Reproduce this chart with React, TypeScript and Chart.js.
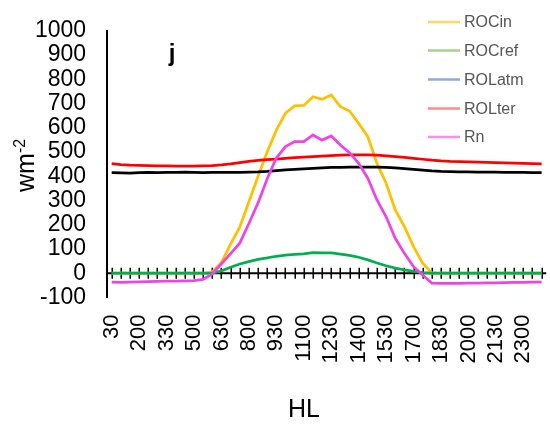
import { useEffect, useRef } from "react";
import { Chart, registerables } from "chart.js";

Chart.register(...registerables);

// Half-hourly local times (HHMM)
const hours = [
  "30", "100", "130", "200", "230", "300", "330", "400", "430", "500", "530", "600",
  "630", "700", "730", "800", "830", "900", "930", "1000", "1030", "1100", "1130", "1200",
  "1230", "1300", "1330", "1400", "1430", "1500", "1530", "1600", "1630", "1700", "1730", "1800",
  "1830", "1900", "1930", "2000", "2030", "2100", "2130", "2200", "2230", "2300", "2330", "2400",
];

// Radiation components, W m-2
const rocIn = [
  0, 0, 0, 0, 0, 0, 0, 0, 0, 0, 0, 5,
  45, 120, 190, 295, 400, 500, 590, 660, 690, 692, 728, 717,
  735, 687, 669, 618, 563, 453, 371, 261, 192, 110, 41, 0,
  0, 0, 0, 0, 0, 0, 0, 0, 0, 0, 0, 0,
];
const rocRef = [
  0, 0, 0, 0, 0, 0, 0, 0, 0, 0, 0, 0,
  10, 25, 38, 48, 57, 63, 70, 75, 78, 80, 85, 84,
  84, 79, 74, 66, 55, 42, 31, 21, 14, 8, 3, 0,
  0, 0, 0, 0, 0, 0, 0, 0, 0, 0, 0, 0,
];
const rolAtm = [
  415, 414, 413, 415, 416, 415, 416, 416, 417, 416, 415, 416,
  416, 416, 416, 417, 418, 420, 423, 426, 428, 430, 432, 434,
  436, 437, 438, 438, 438, 438, 436, 434, 431, 428, 425, 422,
  420, 419, 418, 418, 417, 417, 417, 416, 416, 416, 415, 415,
];
const rolTer = [
  452, 448, 446, 445, 444, 443, 443, 442, 442, 442, 443, 444,
  447, 451, 456, 461, 465, 468, 471, 474, 477, 479, 481, 483,
  485, 487, 488, 488, 488, 487, 484, 481, 478, 474, 470, 466,
  463, 461, 460, 459, 458, 457, 456, 455, 454, 453, 452, 451,
];
const rn = [
  -37, -38, -37, -36, -35, -34, -33, -32, -31, -30, -25, -3,
  39, 81, 124, 205, 290, 390, 475, 522, 543, 543, 570, 549,
  566, 529, 497, 453, 392, 302, 233, 144, 82, 27, -7, -41,
  -42, -42, -42, -41, -41, -40, -40, -39, -38, -38, -37, -37,
];

const seriesNames = ["ROCin", "ROCref", "ROLatm", "ROLter", "Rn"];
const lineColors = ["#FFC000", "#00B050", "#000000", "#FF0000", "#EE44E6"];
const legendColors = ["#FFD966", "#A9D18E", "#8FAADC", "#FF8A8A", "#FF8CF2"];

const FONT = "'Liberation Sans', Arial, sans-serif";

const decorations = {
  id: "decorations",
  beforeDatasetsDraw(chart: any) {
    const { ctx, chartArea, scales } = chart;
    const xs = scales.x;
    const y0 = scales.y.getPixelForValue(0);
    ctx.save();
    ctx.strokeStyle = "#000";
    ctx.lineWidth = 2;
    ctx.beginPath();
    ctx.moveTo(chartArea.left, y0);
    ctx.lineTo(chartArea.right, y0);
    ctx.stroke();
    ctx.lineWidth = 1.5;
    ctx.beginPath();
    for (let i = 0; i < hours.length; i++) {
      const px = Math.round(xs.getPixelForValue(i)) + 0.25;
      ctx.moveTo(px, y0 - 5.5);
      ctx.lineTo(px, y0 + 5.5);
    }
    ctx.stroke();
    ctx.restore();
  },
  afterDraw(chart: any) {
    const { ctx } = chart;
    ctx.save();
    ctx.fillStyle = "#000";

    // y-axis title with superscript
    ctx.save();
    ctx.translate(33.5, 192);
    ctx.rotate(-Math.PI / 2);
    ctx.textBaseline = "alphabetic";
    ctx.textAlign = "left";
    ctx.font = `25px ${FONT}`;
    ctx.fillText("wm", 0, 0);
    const w = ctx.measureText("wm").width;
    ctx.font = `16px ${FONT}`;
    ctx.fillText("-2", w, -8.5);
    ctx.restore();

    // x-axis title
    ctx.font = `25px ${FONT}`;
    ctx.textAlign = "center";
    ctx.textBaseline = "alphabetic";
    ctx.fillText("HL", 304, 417);

    // panel letter
    ctx.font = `bold 24px ${FONT}`;
    ctx.fillText("j", 172, 61);

    // legend
    ctx.filter = "blur(0.4px)";
    const rows = [22, 50.5, 79.5, 108.5, 137];
    ctx.textAlign = "left";
    ctx.textBaseline = "middle";
    ctx.font = `16px ${FONT}`;
    seriesNames.forEach((name, i) => {
      ctx.strokeStyle = legendColors[i];
      ctx.lineWidth = 2.5;
      ctx.beginPath();
      ctx.moveTo(428, rows[i]);
      ctx.lineTo(460, rows[i]);
      ctx.stroke();
      ctx.fillStyle = "#555555";
      ctx.fillText(name, 464, rows[i] + 1);
    });
    ctx.restore();
  },
};

export default function App() {
  const canvasRef = useRef<HTMLCanvasElement | null>(null);

  useEffect(() => {
    const canvas = canvasRef.current;
    if (!canvas) return;
    Chart.defaults.font.family = FONT;
    const series = [rocIn, rocRef, rolAtm, rolTer, rn];
    const chart = new Chart(canvas, {
      type: "line",
      data: {
        labels: hours,
        datasets: series.map((values, i) => ({
          label: seriesNames[i],
          data: values,
          borderColor: lineColors[i],
          backgroundColor: lineColors[i],
          borderWidth: 2.75,
          pointRadius: 0,
          tension: 0,
          fill: false,
          order: series.length - i,
        })),
      },
      options: {
        responsive: false,
        animation: false,
        layout: { padding: { left: 0, right: 3.8, top: 30.7, bottom: 0 } },
        plugins: {
          legend: { display: false },
          tooltip: { enabled: false },
        },
        scales: {
          x: {
            type: "category",
            offset: true,
            grid: { display: false, drawTicks: false },
            border: { display: false },
            ticks: {
              autoSkip: false,
              maxRotation: 90,
              minRotation: 90,
              padding: 17,
              color: "#000",
              font: { size: 22, family: FONT },
              callback: (_v: any, i: number) => (i % 3 === 0 ? hours[i] : ""),
            },
            afterFit: (s: any) => {
              s.height = 128.5;
              s.paddingLeft = 0;
              s.paddingRight = 0;
            },
          },
          y: {
            min: -100,
            max: 1000,
            grid: { display: false, drawTicks: false },
            border: { display: true, color: "#000", width: 2 },
            ticks: {
              stepSize: 100,
              autoSkip: false,
              padding: 21,
              color: "#000",
              font: { size: 23, family: FONT, lineHeight: 1 },
              callback: (v: any) => String(v),
            },
            afterFit: (s: any) => {
              s.width = 107.1;
              s.paddingTop = 0;
              s.paddingBottom = 0;
            },
          },
        },
      },
      plugins: [decorations],
    });
    return () => chart.destroy();
  }, []);

  return (
    <div style={{ position: "fixed", left: 0, top: 0, width: 550, height: 426, background: "#fff" }}>
      <canvas ref={canvasRef} width={550} height={426} style={{ display: "block" }} />
    </div>
  );
}
